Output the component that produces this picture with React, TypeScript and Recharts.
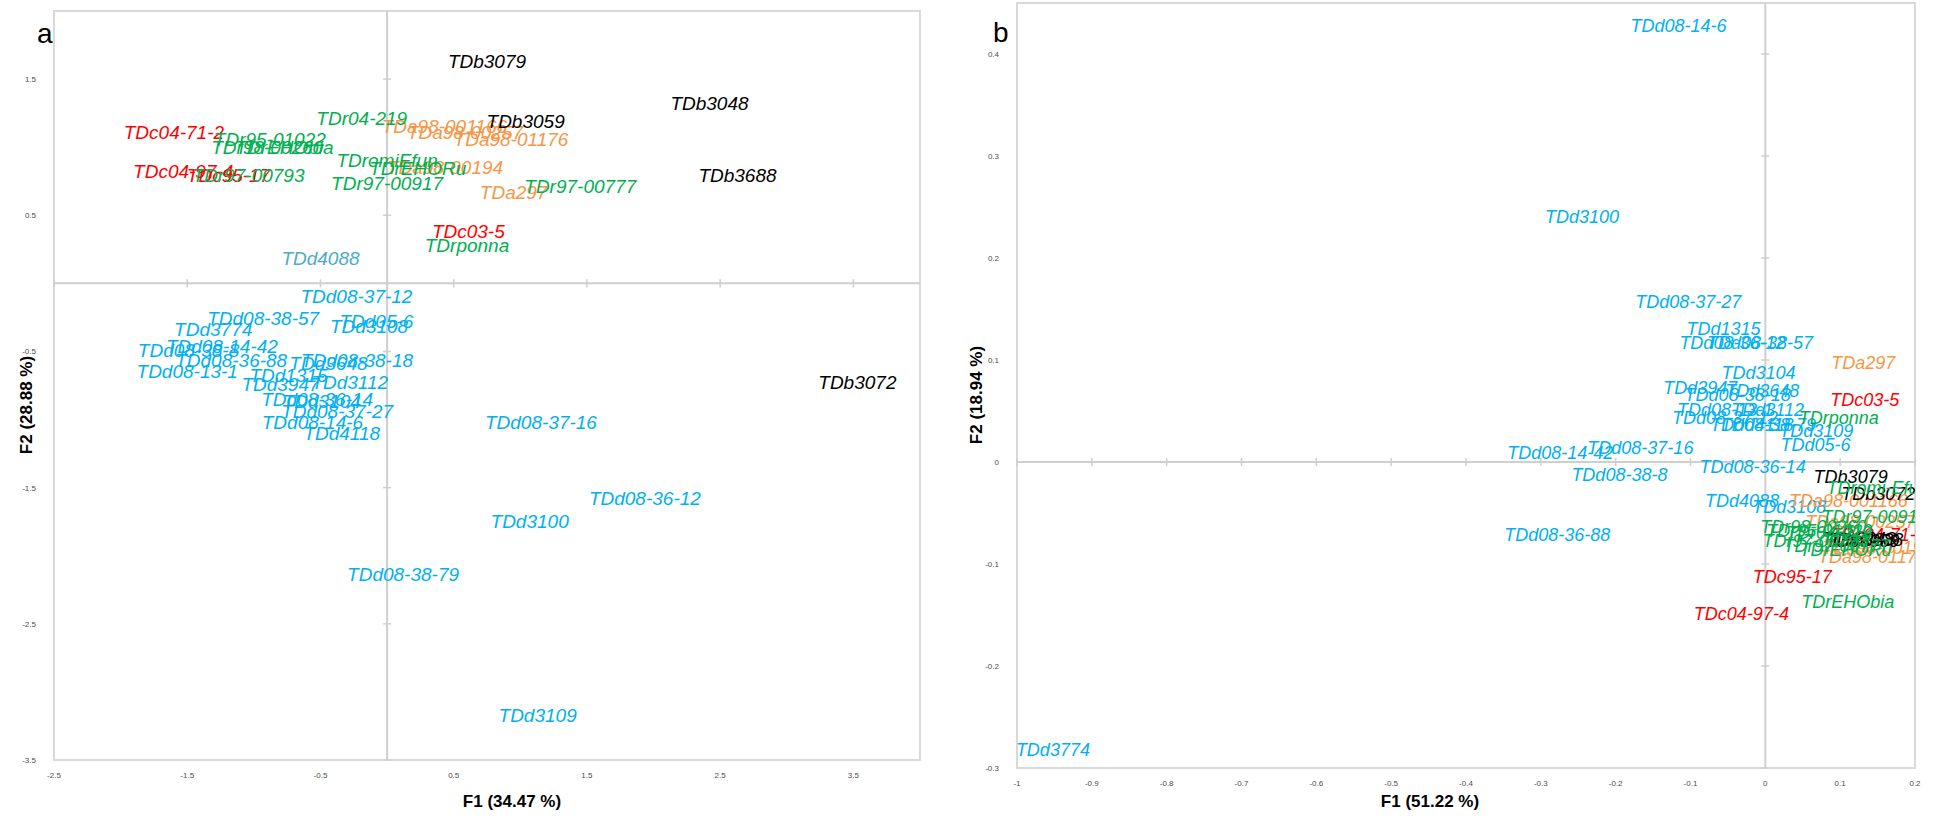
import React from 'react';
import { ScatterChart, Scatter, XAxis, YAxis, ReferenceLine, ReferenceArea } from 'recharts';

// Panel a: observation coordinates on F1 / F2
const aNames = [
  'TDc04-71-2', 'TDc04-97-4', 'TDc95-17', 'TDc03-5',
  'TDr95-01022', 'TDr98-00260', 'TDrEHObia', 'TDr97-00793', 'TDr04-219', 'TDromiEfun', 'TDrEHORu', 'TDr97-00917', 'TDr97-00777', 'TDrponna',
  'TDa98-001166', 'TDa98-00257', 'TDa98-01176', 'TDa98-00194', 'TDa297',
  'TDb3079', 'TDb3059', 'TDb3048', 'TDb3688', 'TDb3072',
  'TDd4088',
  'TDd08-37-12', 'TDd08-38-57', 'TDd05-6', 'TDd3108', 'TDd3774', 'TDd08-14-42', 'TDd08-38-8', 'TDd08-36-88',
  'TDd08-38-18', 'TDd3648', 'TDd08-13-1', 'TDd1315', 'TDd3947', 'TDd3112', 'TDd08-36-14', 'TDd3104',
  'TDd08-37-27', 'TDd08-14-6', 'TDd4118', 'TDd08-37-16', 'TDd08-36-12', 'TDd3100', 'TDd08-38-79', 'TDd3109',
];
const aF1 = [
  -1.6, -1.53, -1.19, 0.61,
  -0.88, -0.9, -0.77, -1.04, -0.19, 0.0, 0.23, 0.0, 1.45, 0.6,
  0.43, 0.585, 0.93, 0.435, 0.95,
  0.75, 1.04, 2.42, 2.63, 3.53,
  -0.5,
  -0.23, -0.93, -0.08, -0.135, -1.305, -1.24, -1.49, -1.17,
  -0.225, -0.44, -1.5, -0.74, -0.8, -0.28, -0.525, -0.49,
  -0.375, -0.56, -0.34, 1.155, 1.935, 1.07, 0.12, 1.13,
];
const aF2 = [
  1.11, 0.82, 0.79, 0.38,
  1.06, 1.0, 1.0, 0.79, 1.21, 0.9, 0.84, 0.73, 0.71, 0.28,
  1.15, 1.11, 1.06, 0.85, 0.67,
  1.63, 1.19, 1.32, 0.79, -0.73,
  0.18,
  -0.1, -0.26, -0.28, -0.32, -0.34, -0.46, -0.49, -0.57,
  -0.57, -0.59, -0.65, -0.68, -0.74, -0.73, -0.85, -0.87,
  -0.94, -1.02, -1.1, -1.02, -1.58, -1.75, -2.14, -3.17,
];
const aGroups = [
  'c', 'c', 'c', 'c',
  'r', 'r', 'r', 'r', 'r', 'r', 'r', 'r', 'r', 'r',
  'a', 'a', 'a', 'a', 'a',
  'b', 'b', 'b', 'b', 'b',
  'e',
  'd', 'd', 'd', 'd', 'd', 'd', 'd', 'd',
  'd', 'd', 'd', 'd', 'd', 'd', 'd', 'd',
  'd', 'd', 'd', 'd', 'd', 'd', 'd', 'd',
];
const aTicksX = [-2.5, -1.5, -0.5, 0.5, 1.5, 2.5, 3.5];
const aTicksY = [-3.5, -2.5, -1.5, -0.5, 0.5, 1.5];

// Panel b: observation coordinates on F1 / F2
const bNames = [
  'TDd08-14-6', 'TDd3100', 'TDd08-37-27', 'TDd1315', 'TDd08-36-12', 'TDd08-38-57', 'TDd3104', 'TDd3947',
  'TDd3648', 'TDd08-38-18', 'TDd08-13-1', 'TDd3112', 'TDd08-37-12', 'TDd4118', 'TDd08-38-79', 'TDd3109',
  'TDd05-6', 'TDd08-37-16', 'TDd08-14-42', 'TDd08-38-8', 'TDd08-36-14', 'TDd08-36-88', 'TDd4088', 'TDd3108', 'TDd3774',
  'TDa297', 'TDa98-001166', 'TDa98-00257', 'TDa98-00194', 'TDa98-01176',
  'TDc03-5', 'TDc04-71-2', 'TDc95-17', 'TDc04-97-4',
  'TDb3079', 'TDb3072', 'TDb3048', 'TDb3059', 'TDb3688',
  'TDrponna', 'TDromi-Efun', 'TDr97-00917', 'TDr98-00260', 'TDr95-01022', 'TDr04-219', 'TDr97-00793', 'TDr97-00777', 'TDrEHORu', 'TDrEHObia',
];
const bF1 = [
  -0.116, -0.245, -0.103, -0.056, -0.044, -0.007, -0.009, -0.087,
  -0.004, -0.037, -0.054, 0.003, -0.054, -0.011, -0.003, 0.068,
  0.067, -0.167, -0.274, -0.195, -0.017, -0.278, -0.031, 0.032, -0.952,
  0.131, 0.111, 0.127, 0.15, 0.143,
  0.133, 0.151, 0.036, -0.032,
  0.114, 0.151, 0.125, 0.13, 0.135,
  0.098, 0.15, 0.146, 0.064, 0.072, 0.085, 0.067, 0.095, 0.107, 0.11,
];
const bF2 = [
  0.427, 0.24, 0.157, 0.13, 0.117, 0.117, 0.087, 0.073,
  0.07, 0.066, 0.051, 0.051, 0.043, 0.036, 0.036, 0.03,
  0.017, 0.014, 0.009, -0.013, -0.005, -0.072, -0.038, -0.044, -0.282,
  0.097, -0.038, -0.059, -0.084, -0.093,
  0.061, -0.072, -0.113, -0.149,
  -0.015, -0.031, -0.075, -0.077, -0.076,
  0.043, -0.025, -0.054, -0.064, -0.068, -0.07, -0.077, -0.082, -0.086, -0.137,
];
const bGroups = [
  'd', 'd', 'd', 'd', 'd', 'd', 'd', 'd',
  'd', 'd', 'd', 'd', 'd', 'd', 'd', 'd',
  'd', 'd', 'd', 'd', 'd', 'd', 'd', 'd', 'd',
  'a', 'a', 'a', 'a', 'a',
  'c', 'c', 'c', 'c',
  'b', 'b', 'b', 'b', 'b',
  'r', 'r', 'r', 'r', 'r', 'r', 'r', 'r', 'r', 'r',
];
const bTicksX = [-1, -0.9, -0.8, -0.7, -0.6, -0.5, -0.4, -0.3, -0.2, -0.1, 0, 0.1, 0.2];
const bTicksY = [-0.3, -0.2, -0.1, 0, 0.1, 0.2, 0.3, 0.4];

const groupOrder = ['d', 'e', 'a', 'c', 'b', 'r'];
const groupColors: Record<string, string> = {
  a: '#F79646',
  b: '#000000',
  c: '#FF0000',
  d: '#00B0F0',
  e: '#4BACC6',
  r: '#00B050',
};

type Row = { name: string; f1: number; f2: number; group: string };

const buildRows = (names: string[], f1: number[], f2: number[], groups: string[]): Row[] =>
  names.map((name, i) => ({ name, f1: f1[i], f2: f2[i], group: groups[i] }));

const LABEL_FONT = '"Liberation Sans", Arial, sans-serif';
const TICK_COLOR = '#4d4d4d';
const FRAME_COLOR = '#d9d9d9';
const AXIS_COLOR = '#cfcfcf';

const makeLabel = (color: string, size: number) => (props: any) => {
  const { cx, cy, payload } = props;
  return (
    <text
      x={cx}
      y={cy}
      fill={color}
      fontSize={size}
      fontStyle="italic"
      fontFamily={LABEL_FONT}
      textAnchor="middle"
      dominantBaseline="central"
    >
      {payload.name}
    </text>
  );
};

const fmt = (v: number) => String(Math.round(v * 10) / 10);

// Small axis tick labels along the frame
const XTick = (props: any) => {
  const { x, y, payload } = props;
  return (
    <text x={x} y={y + 10} fontSize={8} fill={TICK_COLOR} fontFamily={LABEL_FONT} textAnchor="middle">
      {fmt(payload.value)}
    </text>
  );
};
const YTick = (props: any) => {
  const { x, y, payload } = props;
  return (
    <text x={x - 10} y={y + 3} fontSize={8} fill={TICK_COLOR} fontFamily={LABEL_FONT} textAnchor="end">
      {fmt(payload.value)}
    </text>
  );
};

type PanelProps = {
  rows: Row[];
  xDomain: [number, number];
  yDomain: [number, number];
  xTicks: number[];
  yTicks: number[];
  width: number;
  height: number;
  margin: { top: number; right: number; bottom: number; left: number };
  markX: number; // half-length of tick marks on the F1 = 0 line, in F1 units
  markY: number; // half-length of tick marks on the F2 = 0 line, in F2 units
  labelSize: number;
};

function Panel({ rows, xDomain, yDomain, xTicks, yTicks, width, height, margin, markX, markY, labelSize }: PanelProps) {
  return (
    <ScatterChart width={width} height={height} margin={margin}>
      <XAxis
        type="number"
        dataKey="f1"
        domain={xDomain}
        ticks={xTicks}
        allowDataOverflow
        height={20}
        axisLine={false}
        tickLine={false}
        tick={<XTick />}
        interval={0}
      />
      <YAxis
        type="number"
        dataKey="f2"
        domain={yDomain}
        ticks={yTicks}
        allowDataOverflow
        width={20}
        axisLine={false}
        tickLine={false}
        tick={<YTick />}
        interval={0}
      />
      <ReferenceArea
        x1={xDomain[0]}
        x2={xDomain[1]}
        y1={yDomain[0]}
        y2={yDomain[1]}
        fill="none"
        stroke={FRAME_COLOR}
        strokeWidth={2}
        ifOverflow="visible"
      />
      <ReferenceLine x={0} stroke={AXIS_COLOR} strokeWidth={2} />
      <ReferenceLine y={0} stroke={AXIS_COLOR} strokeWidth={2} />
      {xTicks.filter((t) => t !== 0).map((t) => (
        <ReferenceLine
          key={`mx${t}`}
          segment={[{ x: t, y: -markY }, { x: t, y: markY }]}
          stroke={AXIS_COLOR}
          strokeWidth={1.5}
        />
      ))}
      {yTicks.filter((t) => t !== 0).map((t) => (
        <ReferenceLine
          key={`my${t}`}
          segment={[{ x: -markX, y: t }, { x: markX, y: t }]}
          stroke={AXIS_COLOR}
          strokeWidth={1.5}
        />
      ))}
      {groupOrder.map((g) => (
        <Scatter
          key={g}
          data={rows.filter((r) => r.group === g)}
          shape={makeLabel(groupColors[g], labelSize)}
          isAnimationActive={false}
        />
      ))}
    </ScatterChart>
  );
}

const titleStyle = {
  fontFamily: LABEL_FONT,
  fontWeight: 700,
  fontSize: 17,
  fill: '#000',
};

export default function App() {
  const aRows = buildRows(aNames, aF1, aF2, aGroups);
  const bRows = buildRows(bNames, bF1, bF2, bGroups);
  return (
    <div style={{ position: 'absolute', left: 0, top: 0, width: 1934, height: 818, background: '#fff' }}>
      <div style={{ position: 'absolute', left: 0, top: 0 }}>
        <Panel
          rows={aRows}
          xDomain={[-2.5, 4]}
          yDomain={[-3.5, 2]}
          xTicks={aTicksX}
          yTicks={aTicksY}
          width={960}
          height={818}
          margin={{ top: 11, right: 40, bottom: 38, left: 34 }}
          markX={0.03}
          markY={0.03}
          labelSize={19}
        />
      </div>
      <div style={{ position: 'absolute', left: 960, top: 0 }}>
        <Panel
          rows={bRows}
          xDomain={[-1, 0.2]}
          yDomain={[-0.3, 0.45]}
          xTicks={bTicksX}
          yTicks={bTicksY}
          width={974}
          height={818}
          margin={{ top: 3, right: 19, bottom: 30, left: 37 }}
          markX={0.0054}
          markY={0.004}
          labelSize={18}
        />
      </div>
      <svg
        width={1934}
        height={818}
        style={{ position: 'absolute', left: 0, top: 0, pointerEvents: 'none' }}
      >
        <text x={37} y={43} fontSize={28} fontFamily={LABEL_FONT}>a</text>
        <text x={993} y={42} fontSize={28} fontFamily={LABEL_FONT}>b</text>
        <text x={512} y={801} textAnchor="middle" dominantBaseline="central" style={titleStyle}>F1 (34.47 %)</text>
        <text x={1430} y={801} textAnchor="middle" dominantBaseline="central" style={titleStyle}>F1 (51.22 %)</text>
        <text
          x={26}
          y={405}
          textAnchor="middle"
          dominantBaseline="central"
          transform="rotate(-90 26 405)"
          style={titleStyle}
        >
          F2 (28.88 %)
        </text>
        <text
          x={976}
          y={395}
          textAnchor="middle"
          dominantBaseline="central"
          transform="rotate(-90 976 395)"
          style={titleStyle}
        >
          F2 (18.94 %)
        </text>
      </svg>
    </div>
  );
}
